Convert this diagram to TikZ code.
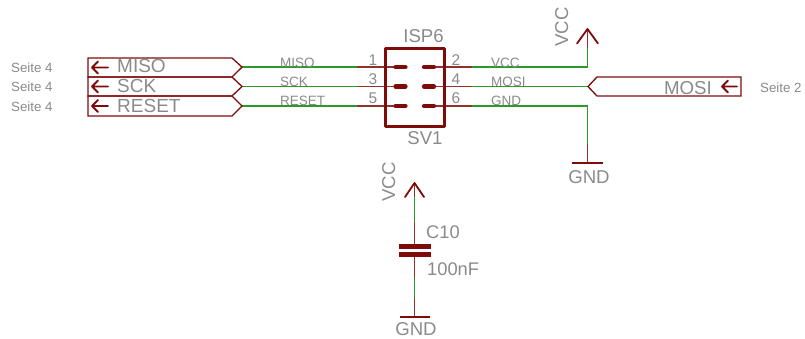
\documentclass[tikz,border=0pt]{standalone}
\usepackage{fontspec}
\setmainfont{Liberation Sans}
\definecolor{sym}{HTML}{7F0A0A}
\definecolor{net}{HTML}{2A9A2A}
\definecolor{lab}{HTML}{8A8A8A}
\tikzset{
  wire/.style={draw=net,line width=1.8pt},
  pinl/.style={draw=sym!85!white,line width=1.8pt},
  flag/.style={draw=sym,line width=1.3pt,line join=miter},
  sign/.style={draw=sym,line width=1.8pt,line cap=round,line join=round},
  txt/.style={text=lab,inner sep=0pt,font=\fontsize{#1}{#1}\selectfont},
  pad/.style={draw=sym,line width=4.2pt,line cap=round},
  plate/.style={draw=sym,line width=5pt},
}
\begin{document}
\begin{tikzpicture}[x=1pt,y=-1pt]
\useasboundingbox (0,0) rectangle (805,338);
% junction coordinates
\coordinate (fa) at (242,67.1); \coordinate (fb) at (242,86.5); \coordinate (fc) at (242,106);
\coordinate (la) at (357,67.1); \coordinate (lb) at (357,86.5); \coordinate (lc) at (357,106);
\coordinate (pa) at (394,67.1); \coordinate (pb) at (394,86.5); \coordinate (pc) at (394,106);
\coordinate (ra) at (472,67.1); \coordinate (rb) at (472,86.5); \coordinate (rc) at (472,106);
\coordinate (qa) at (423,67.1); \coordinate (qb) at (423,86.5); \coordinate (qc) at (423,106);
\coordinate (va) at (587.5,67.1); \coordinate (vb) at (587.5,48); \coordinate (vt) at (587.5,29);
\coordinate (mo) at (588,86.5);
\coordinate (ga) at (587.5,106); \coordinate (gb) at (587.5,144); \coordinate (gt) at (587.5,163);
\coordinate (ct) at (414.5,183); \coordinate (c1) at (414.5,197); \coordinate (c2) at (414.5,222); \coordinate (c3) at (414.5,246);
\coordinate (c4) at (414.5,254); \coordinate (c5) at (414.5,278); \coordinate (c6) at (414.5,298); \coordinate (cb) at (414.5,317);
% wires
\draw[wire] (fa) -- (la); \draw[wire] (fb) -- (lb); \draw[wire] (fc) -- (lc);
\draw[wire,line join=miter] (ra) -- (va) -- (vb);
\draw[wire] (rb) -- (mo);
\draw[wire,line join=miter] (rc) -- (ga) -- (gb);
\draw[wire] (c1) -- (c2); \draw[wire] (c5) -- (c6);
% pins
\draw[pinl] (la) -- (pa); \draw[pinl] (lb) -- (pb); \draw[pinl] (lc) -- (pc);
\draw[pinl] (ra) -- (qa); \draw[pinl] (rb) -- (qb); \draw[pinl] (rc) -- (qc);
\draw[pinl] (vb) -- (vt); \draw[pinl] (gb) -- (gt);
\draw[pinl] (c1) -- (ct); \draw[pinl] (c2) -- (c3); \draw[pinl] (c5) -- (c4); \draw[pinl] (c6) -- (cb);
% flags
\draw[flag] (88,58) -- (232,58) -- (fa) -- (232,77) -- (88,77) -- cycle;
\draw[flag] (88,77) -- (232,77) -- (fb) -- (232,96) -- (88,96) -- cycle;
\draw[flag] (88,96) -- (232,96) -- (fc) -- (232,116) -- (88,116) -- cycle;
\draw[flag] (741,77) -- (597,77) -- (mo) -- (597,96) -- (741,96) -- cycle;
\foreach \y in {67.5,86.5,106} \draw[sign] (108,\y) -- (92,\y) (98,\y-6) -- (92,\y) -- (98,\y+6);
\draw[sign] (737,86.5) -- (722,86.5) (728,80.5) -- (722,86.5) -- (728,92.5);
% connector body
\draw[draw=sym,line width=3pt,line join=round] (385.5,48) rectangle (444,126);
\foreach \a/\b in {pa/qa,pb/qb,pc/qc}{
  \draw[pad] ([xshift=1.5pt]\a) -- ([xshift=11.5pt]\a);
  \draw[pad] ([xshift=1pt]\b) -- ([xshift=11pt]\b);
}
% supply signs
\draw[sign] (577,43.5) -- (vt) -- (598,43.5);
\draw[sign] (405,197) -- (ct) -- (424,197);
\draw[sign,line cap=butt] (572,163) -- (gt) -- (602.5,163);
\draw[sign,line cap=butt] (400,317) -- (cb) -- (430,317);
\draw[plate] (399,246) -- (c3) -- (430.5,246);
\draw[plate] (399,254) -- (c4) -- (430.5,254);
% labels
\node[txt=13.3,anchor=west] (s1) at (11,67.5) {Seite 4};
\node[txt=13.3,anchor=west] (s2) at (11,87) {Seite 4};
\node[txt=13.3,anchor=west] (s3) at (11,106.5) {Seite 4};
\node[txt=13.3,anchor=west] (s4) at (760,87.5) {Seite 2};
\node[txt=19,anchor=base west] (t1) at (117,72) {MISO};
\node[txt=19,anchor=base west] (t2) at (117,92) {SCK};
\node[txt=19,anchor=base west] (t3) at (117,112) {RESET};
\node[txt=18.7,anchor=base east] (t4) at (712,94) {MOSI};
\node[txt=13.5,anchor=base west] (n1) at (280,67.5) {MISO};
\node[txt=13.5,anchor=base west] (n2) at (280,86.5) {SCK};
\node[txt=13.5,anchor=base west] (n3) at (280,105.5) {RESET};
\node[txt=13.5,anchor=base west] (n4) at (491,67.5) {VCC};
\node[txt=13.5,anchor=base west] (n5) at (491,86.5) {MOSI};
\node[txt=13.5,anchor=base west] (n6) at (491,105.5) {GND};
\node[txt=15.5,anchor=base] (p1) at (373,65) {1};
\node[txt=15.5,anchor=base] (p3) at (373,84) {3};
\node[txt=15.5,anchor=base] (p5) at (373,103) {5};
\node[txt=15.5,anchor=base] (p2) at (456,65) {2};
\node[txt=15.5,anchor=base] (p4) at (456,84) {4};
\node[txt=15.5,anchor=base] (p6) at (456,103) {6};
\node[txt=18.6,anchor=base] (isp) at (423.5,42.5) {ISP6};
\node[txt=18.6,anchor=base] (sv) at (425,144.5) {SV1};
\node[txt=18.6,anchor=base west,rotate=90] (v1) at (568,47) {VCC};
\node[txt=18.6,anchor=base west,rotate=90] (v2) at (395,202) {VCC};
\node[txt=18.6,anchor=base] (g1) at (589,183) {GND};
\node[txt=18.6,anchor=base] (g2) at (416,335.5) {GND};
\node[txt=18.3,anchor=base west] (c10) at (426,238) {C10};
\node[txt=18.3,anchor=base west] (cv) at (427,275) {100nF};
\end{tikzpicture}
\end{document}
